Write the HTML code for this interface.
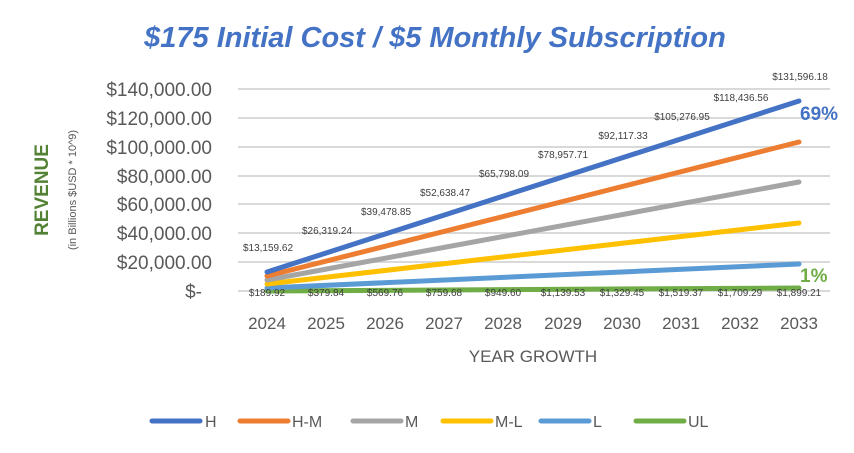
<!DOCTYPE html>
<html><head><meta charset="utf-8"><style>
body{margin:0;width:854px;height:453px;background:#fff;overflow:hidden}
svg{display:block}
</style></head><body>
<svg width="854" height="453" xmlns="http://www.w3.org/2000/svg" font-family="Liberation Sans, sans-serif">
<text x="435" y="47" text-anchor="middle" font-size="29" font-weight="bold" font-style="italic" fill="#4472c4">$175 Initial Cost / $5 Monthly Subscription</text>
<g stroke="#d9d9d9" stroke-width="2">
<line x1="238" x2="830" y1="89" y2="89"/><line x1="238" x2="830" y1="118" y2="118"/>
<line x1="238" x2="830" y1="147" y2="147"/><line x1="238" x2="830" y1="176" y2="176"/>
<line x1="238" x2="830" y1="204" y2="204"/><line x1="238" x2="830" y1="233" y2="233"/>
<line x1="238" x2="830" y1="262" y2="262"/><line x1="238" x2="830" y1="291" y2="291"/>
</g>
<g font-size="19" fill="#595959" text-anchor="end">
<text x="212" y="96">$140,000.00</text><text x="212" y="125">$120,000.00</text>
<text x="212" y="154">$100,000.00</text><text x="212" y="183">$80,000.00</text>
<text x="212" y="211">$60,000.00</text><text x="212" y="240">$40,000.00</text>
<text x="212" y="269">$20,000.00</text><text x="202" y="298">$-</text>
</g>
<text transform="translate(48,190) rotate(-90)" text-anchor="middle" font-size="19" font-weight="bold" fill="#548235">REVENUE</text>
<text transform="translate(76,190) rotate(-90)" text-anchor="middle" font-size="11" fill="#595959">(in Billions $USD * 10^9)</text>
<g font-size="17" fill="#595959" text-anchor="middle">
<text x="267" y="329">2024</text><text x="326" y="329">2025</text><text x="385" y="329">2026</text>
<text x="444" y="329">2027</text><text x="503" y="329">2028</text><text x="563" y="329">2029</text>
<text x="622" y="329">2030</text><text x="681" y="329">2031</text><text x="740" y="329">2032</text>
<text x="799" y="329">2033</text>
</g>
<text x="533" y="362" text-anchor="middle" font-size="17" fill="#595959">YEAR GROWTH</text>
<g stroke-width="5" stroke-linecap="round">
<line x1="267" y1="291" x2="799" y2="288" stroke="#70ad47"/>
<line x1="267" y1="288" x2="799" y2="264" stroke="#5b9bd5"/>
<line x1="267" y1="284" x2="799" y2="223" stroke="#ffc000"/>
<line x1="267" y1="280" x2="799" y2="182" stroke="#a5a5a5"/>
<line x1="267" y1="276" x2="799" y2="142" stroke="#ed7d31"/>
<line x1="267" y1="272" x2="799" y2="101" stroke="#4472c4"/>
</g>
<g font-size="10" fill="#404040" text-anchor="middle">
<text x="268" y="251">$13,159.62</text><text x="327" y="234">$26,319.24</text>
<text x="386" y="215">$39,478.85</text><text x="445" y="196">$52,638.47</text>
<text x="504" y="177">$65,798.09</text><text x="563" y="158">$78,957.71</text>
<text x="623" y="139">$92,117.33</text><text x="682" y="120">$105,276.95</text>
<text x="741" y="101">$118,436.56</text><text x="800" y="80">$131,596.18</text>
</g>
<g font-size="10" fill="#404040" text-anchor="middle">
<text x="267" y="296">$189.92</text><text x="326" y="296">$379.84</text><text x="385" y="296">$569.76</text>
<text x="444" y="296">$759.68</text><text x="503" y="296">$949.60</text><text x="563" y="296">$1,139.53</text>
<text x="622" y="296">$1,329.45</text><text x="681" y="296">$1,519.37</text><text x="740" y="296">$1,709.29</text>
<text x="799" y="296">$1,899.21</text>
</g>
<text x="800" y="120" font-size="19" font-weight="bold" fill="#4472c4">69%</text>
<text x="800" y="282" font-size="19" font-weight="bold" fill="#70ad47">1%</text>
<g stroke-width="5" stroke-linecap="round">
<line x1="152" x2="200" y1="421" y2="421" stroke="#4472c4"/>
<line x1="240" x2="288" y1="421" y2="421" stroke="#ed7d31"/>
<line x1="353" x2="401" y1="421" y2="421" stroke="#a5a5a5"/>
<line x1="443" x2="491" y1="421" y2="421" stroke="#ffc000"/>
<line x1="541" x2="589" y1="421" y2="421" stroke="#5b9bd5"/>
<line x1="636" x2="684" y1="421" y2="421" stroke="#70ad47"/>
</g>
<g font-size="16" fill="#595959">
<text x="205" y="427">H</text><text x="292" y="427">H-M</text><text x="405" y="427">M</text>
<text x="495" y="427">M-L</text><text x="593" y="427">L</text><text x="688" y="427">UL</text>
</g>
</svg>
</body></html>
